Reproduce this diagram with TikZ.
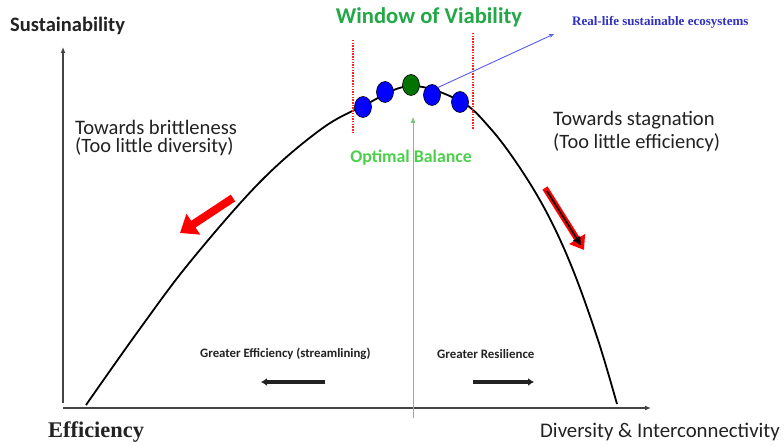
\documentclass[tikz,border=0pt]{standalone}
\usepackage{fontspec}
\setmainfont{Carlito}
\newfontfamily\serifb{Liberation Serif}
\usetikzlibrary{arrows.meta,calc,shapes.geometric}
\definecolor{wgreen}{HTML}{22A846}
\definecolor{ogreen}{HTML}{4CD04C}
\definecolor{lgreen}{HTML}{77C577}
\definecolor{rblue}{HTML}{3030C0}
\definecolor{lblue}{HTML}{5A5AF5}
\definecolor{dotred}{HTML}{FF2020}
\definecolor{txt}{HTML}{222222}
\definecolor{axgray}{HTML}{444444}
\tikzset{
  axis/.style={axgray, line width=1.2pt, -{Latex[length=6pt,width=5pt]}},
  dotline/.style={dotred, line width=1.6pt, dash pattern=on 1.5pt off 1.2pt},
  ball/.style={ellipse, draw=black, line width=0.6pt, minimum width=17pt, minimum height=21pt, inner sep=0pt},
  redarrow/.style={red, line width=8pt, -{Triangle[length=16pt,width=24pt]}},
  dirarrow/.style={txt, line width=3.2pt, -{Latex[length=6pt,width=8pt]}},
  lbl/.style={inner sep=0pt, anchor=west, txt},
}
\begin{document}
\begin{tikzpicture}[x=1pt,y=-1pt]
\useasboundingbox (0,0) rectangle (784,446);
\fill[white] (0,0) rectangle (784,446);
% axes
\coordinate (o) at (63,403);
\coordinate (ytop) at (63,47);
\coordinate (xo) at (63,408);
\coordinate (xend) at (651,408);
\draw[axis] (o) -- (ytop);
\draw[axis] (xo) -- (xend);
% green optimal arrow
\coordinate (gbot) at (413,418);
\coordinate (gtop) at (413,117);
\draw[lgreen, line width=0.8pt, -{Latex[length=6pt,width=5pt]}] (gbot) -- (gtop);
% curve
\draw[black, line width=1.8pt] plot[smooth, tension=0.6] coordinates {(86,405) (139,330) (190,262) (260,182) (320,130) (363,106) (410,86) (460,101) (490,128) (520,168) (548,215) (573,270) (598,340) (617,404)};
% dotted window lines
\coordinate (l1) at (353,40); \coordinate (l2) at (353,132);
\coordinate (r1) at (473,33); \coordinate (r2) at (473,130);
\draw[dotline] (l1) -- (l2);
\draw[dotline] (r1) -- (r2);
% blue pointer
\coordinate (ptip) at (554,34);
\node[ball, fill=blue] (b1) at (363,107) {};
\node[ball, fill=blue] (b2) at (385,92) {};
\node[ball, fill=blue] (b4) at (432,95) {};
\node[ball, fill=blue] (b5) at (460,102) {};
\draw[lblue, line width=0.9pt, -{Stealth[length=5pt,width=4pt]}] (b4.north east) -- (ptip);
\node[ball, fill=green!45!black] (b3) at (411,85) {};
% red arrows
\coordinate (ra1) at (233,198); \coordinate (ra2) at (180,233);
\draw[redarrow] (ra1) -- (ra2);
\coordinate (rb1) at (545,188); \coordinate (rb2) at (584,250);
\draw[red, line width=6pt, -{Triangle[length=13pt,width=18pt]}] (rb1) -- (rb2);
\draw[black, line width=1.6pt, -{Triangle[length=8pt,width=8pt]}] ($(rb1)!0.05!(rb2)$) -- ($(rb1)!0.92!(rb2)$);
% direction arrows
\coordinate (d1) at (325,382); \coordinate (d2) at (261,382);
\coordinate (d3) at (473,382); \coordinate (d4) at (534,382);
\draw[dirarrow] (d1) -- (d2);
\draw[dirarrow] (d3) -- (d4);
% texts
\node[lbl, font=\bfseries\fontsize{20.5}{24}\selectfont] (sus) at (10,26) {Sustainability};
\node[inner sep=0pt, wgreen, font=\bfseries\fontsize{22.6}{26}\selectfont] (wov) at (429,17) {Window of Viability};
\node[lbl, rblue, font=\serifb\bfseries\fontsize{13}{15}\selectfont] (rl) at (572,22) {Real-life sustainable ecosystems};
\node[lbl, font=\fontsize{20.6}{24}\selectfont] (tb1) at (75,127) {Towards brittleness};
\node[lbl, font=\fontsize{20.4}{24}\selectfont] (tb2) at (75,147) {(Too little diversity)};
\node[lbl, font=\fontsize{20.6}{24}\selectfont] (ts1) at (553,120) {Towards stagnation};
\node[lbl, font=\fontsize{20.4}{24}\selectfont] (ts2) at (553,143) {(Too little efficiency)};
\node[inner sep=0pt, ogreen, font=\bfseries\fontsize{17.8}{21}\selectfont] (ob) at (411,158) {Optimal Balance};
\node[lbl, font=\bfseries\fontsize{12.8}{15}\selectfont] (ge) at (200,354) {Greater Efficiency (streamlining)};
\node[lbl, font=\bfseries\fontsize{12.9}{15}\selectfont] (gr) at (437,354) {Greater Resilience};
\node[lbl, font=\serifb\bfseries\fontsize{22.4}{26}\selectfont] (eff) at (48,432) {Efficiency};
\node[lbl, font=\fontsize{20.8}{24}\selectfont] (div) at (540,432) {Diversity \& Interconnectivity};
\end{tikzpicture}
\end{document}
